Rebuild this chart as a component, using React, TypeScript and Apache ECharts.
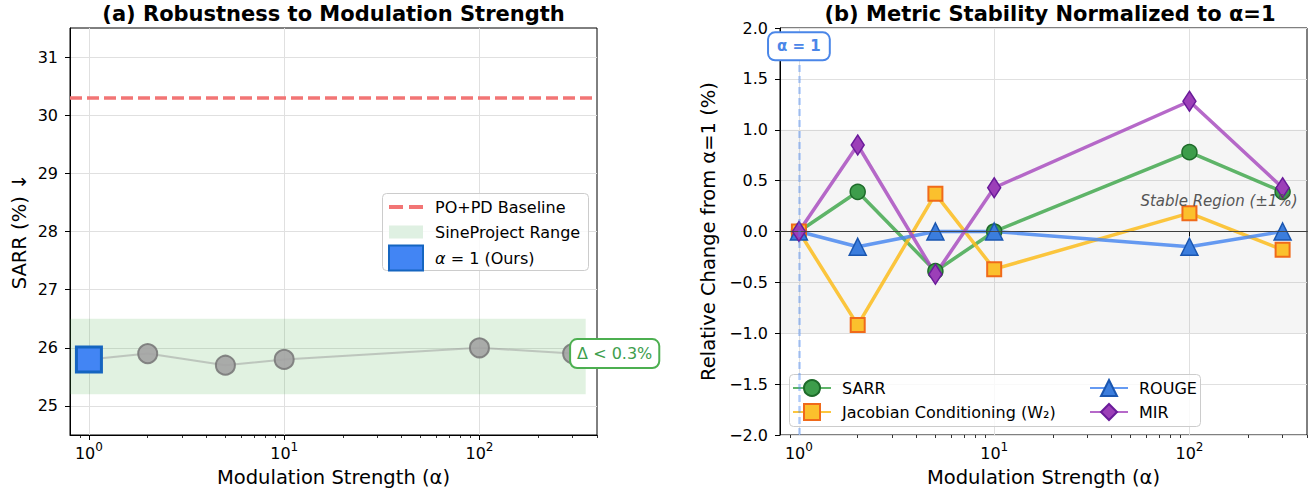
import React, { useEffect, useRef } from 'react';
import * as echarts from 'echarts';

// ---------- data ----------
const ALPHAS = [1, 2, 5, 10, 100, 300];
const SARR_VALUES = [25.8, 25.9, 25.7, 25.8, 26.0, 25.9];
const BASELINE_SARR = 30.3;
const SINE_RANGE_Y = [25.2, 26.5];
const SINE_RANGE_X = [0.8, 350];
const OURS_ALPHA = 1;
const OURS_SARR = 25.8;
const DELTA_LABEL = 'Δ < 0.3%';
const DELTA_POS = [300, 25.9];

const X_RANGE = [0.8, 400];
const X_MAJOR_TICKS = [1, 10, 100];
const X_MINOR_TICKS = [0.9, 2, 3, 4, 5, 6, 7, 8, 9, 20, 30, 40, 50, 60, 70, 80, 90, 200, 300, 400];
const LEFT_Y_RANGE = [24.5, 31.5];
const LEFT_Y_TICKS = [25, 26, 27, 28, 29, 30, 31];

const REL_SARR = [0, 0.39, -0.39, 0, 0.78, 0.39];
const REL_JACOBIAN = [0, -0.92, 0.37, -0.37, 0.18, -0.18];
const REL_ROUGE = [0, -0.15, 0, 0, -0.15, 0];
const REL_MIR = [0, 0.85, -0.42, 0.43, 1.28, 0.43];
const RIGHT_Y_RANGE = [-2, 2];
const RIGHT_Y_STEP = 0.5;
const STABLE_BAND = [-1, 1];
const STABLE_LABEL_POS = [360, 0.3];
const REF_ALPHA = 1;
const REF_LABEL_Y = 1.82;

const FONT = '"DejaVu Sans", "Noto Sans", sans-serif';

const pts = (ys: number[]) => ALPHAS.map((a, i) => [a, ys[i]]);

function metricSeries(name: string, ys: number[], line: string, fill: string, border: string, symbol: string, size: any, borderWidth = 1.5) {
  return {
    name,
    type: 'line',
    xAxisIndex: 2,
    yAxisIndex: 1,
    data: pts(ys),
    symbol,
    symbolSize: size,
    showSymbol: true,
    lineStyle: { color: line, width: 3.5, opacity: 0.85 },
    itemStyle: { color: fill, borderColor: border, borderWidth, opacity: 1 },
    z: 3,
  };
}

export default function App() {
  const ref = useRef<HTMLDivElement>(null);
  useEffect(() => {
    if (!ref.current) return;
    const chart = echarts.init(ref.current, null, { renderer: 'svg' });

    const xAxisBase = (gridIndex: number) => ({
      type: 'log',
      logBase: 10,
      gridIndex,
      min: X_RANGE[0],
      max: X_RANGE[1],
      position: 'bottom',
      name: 'Modulation Strength (α)',
      nameLocation: 'middle',
      nameGap: 32,
      nameTextStyle: { fontSize: 19.5, color: '#000', fontFamily: FONT },
      axisLine: { show: true, lineStyle: { color: '#000', width: 1 } },
      axisTick: { show: true, length: 5, lineStyle: { color: '#000', width: 1 }, customValues: X_MAJOR_TICKS },
      axisLabel: {
        show: true,
        customValues: X_MAJOR_TICKS,
        margin: 6,
        color: '#000',
        fontFamily: FONT,
        formatter: (v: number) => '{b|10}{s|' + Math.round(Math.log10(v)) + '}',
        rich: {
          b: { fontSize: 16, lineHeight: 24, color: '#000', fontFamily: FONT },
          s: { fontSize: 12, lineHeight: 14, verticalAlign: 'top', color: '#000', fontFamily: FONT },
        },
      },
      splitLine: { show: true, lineStyle: { color: '#e0e0e0', width: 1 } },
    });
    const xAxisMinor = (gridIndex: number) => ({
      type: 'log',
      logBase: 10,
      gridIndex,
      min: X_RANGE[0],
      max: X_RANGE[1],
      position: 'bottom',
      axisLine: { show: false },
      axisTick: { show: true, length: 3, lineStyle: { color: '#000', width: 0.8 }, customValues: X_MINOR_TICKS },
      axisLabel: { show: false },
      splitLine: { show: false },
    });

    const legendText = (lh: number, pad: number) => ({
      fontSize: 16,
      color: '#000',
      fontFamily: FONT,
      lineHeight: lh,
      padding: [0, 0, 0, pad],
    });

    const option: any = {
      animation: false,
      textStyle: { fontFamily: FONT },
      grid: [
        { left: 70, top: 28, width: 527, height: 408, show: true, borderColor: '#000', borderWidth: 1, backgroundColor: 'transparent' },
        { left: 780, top: 28, width: 527, height: 408, show: true, borderColor: '#000', borderWidth: 1, backgroundColor: 'transparent' },
      ],
      xAxis: [xAxisBase(0), xAxisMinor(0), xAxisBase(1), xAxisMinor(1)],
      yAxis: [
        {
          type: 'value',
          gridIndex: 0,
          min: LEFT_Y_RANGE[0],
          max: LEFT_Y_RANGE[1],
          name: 'SARR (%) ↓',
          nameLocation: 'middle',
          nameGap: 41,
          nameTextStyle: { fontSize: 19.5, color: '#000', fontFamily: FONT },
          axisLine: { show: true, lineStyle: { color: '#000', width: 1 } },
          axisTick: { show: true, length: 5, lineStyle: { color: '#000' }, customValues: LEFT_Y_TICKS },
          axisLabel: { customValues: LEFT_Y_TICKS, fontSize: 16, color: '#000', margin: 12, fontFamily: FONT },
          splitLine: { show: true, lineStyle: { color: '#e0e0e0', width: 1 } },
        },
        {
          type: 'value',
          gridIndex: 1,
          min: RIGHT_Y_RANGE[0],
          max: RIGHT_Y_RANGE[1],
          interval: RIGHT_Y_STEP,
          name: 'Relative Change from α=1 (%)',
          nameLocation: 'middle',
          nameGap: 62,
          nameTextStyle: { fontSize: 19.5, color: '#000', fontFamily: FONT },
          axisLine: { show: true, lineStyle: { color: '#000', width: 1 } },
          axisTick: { show: true, length: 5, lineStyle: { color: '#000' } },
          axisLabel: {
            fontSize: 16,
            color: '#000',
            margin: 12,
            fontFamily: FONT,
            formatter: (v: number) => (v < 0 ? '−' : '') + Math.abs(v).toFixed(1),
          },
          splitLine: { show: true, lineStyle: { color: '#e0e0e0', width: 1 } },
        },
      ],
      legend: [
        {
          orient: 'vertical',
          left: 388,
          top: 194.5,
          padding: 0,
          itemWidth: 34,
          itemHeight: 25,
          itemGap: 0,
          selectedMode: false,
          textStyle: {
            ...legendText(25, 7),
            rich: { i: { fontStyle: 'italic', fontSize: 16, lineHeight: 25, color: '#000', fontFamily: FONT } },
          },
          formatter: (name: string) => (name.startsWith('α') ? '{i|α} = 1 (Ours)' : name),
          data: [
            { name: 'PO+PD Baseline', icon: 'path://M0,0h14v4h-14z M20,0h14v4h-14z', itemStyle: { color: '#f27575', borderWidth: 0 } },
            { name: 'SineProject Range', icon: 'path://M0,0h34v13h-34z', itemStyle: { color: '#dff0e2', borderWidth: 0 } },
            { name: 'α = 1 (Ours)' },
          ],
        },
        {
          orient: 'vertical',
          left: 792,
          top: 376,
          padding: 0,
          itemWidth: 38,
          itemHeight: 20,
          itemGap: 0,
          selectedMode: false,
          textStyle: legendText(24, 6),
          data: ['SARR', 'Jacobian Conditioning (W₂)'],
        },
        {
          orient: 'vertical',
          left: 1089,
          top: 376,
          padding: 0,
          itemWidth: 38,
          itemHeight: 20,
          itemGap: 0,
          selectedMode: false,
          textStyle: legendText(24, 6),
          data: ['ROUGE', 'MIR'],
        },
      ],
      graphic: [
        {
          type: 'text',
          x: 333.5,
          y: 14,
          style: { text: '(a) Robustness to Modulation Strength', fontSize: 21, fontWeight: 'bold', fontFamily: FONT, fill: '#000', align: 'center', verticalAlign: 'middle' },
        },
        {
          type: 'text',
          x: 1050,
          y: 14,
          style: { text: '(b) Metric Stability Normalized to α=1', fontSize: 21, fontWeight: 'bold', fontFamily: FONT, fill: '#000', align: 'center', verticalAlign: 'middle' },
        },
        {
          type: 'rect',
          z: 3,
          shape: { x: 382.5, y: 193.5, width: 206, height: 77, r: 4 },
          style: { fill: 'rgba(255,255,255,0.8)', stroke: '#cccccc', lineWidth: 1 },
        },
        {
          type: 'rect',
          z: 3,
          shape: { x: 789.5, y: 374.5, width: 411, height: 52, r: 4 },
          style: { fill: 'rgba(255,255,255,0.8)', stroke: '#cccccc', lineWidth: 1 },
        },
      ],
      series: [
        {
          name: 'SineProject Range',
          type: 'line',
          xAxisIndex: 0,
          yAxisIndex: 0,
          data: [],
          itemStyle: { color: '#dff0e2' },
          markArea: {
            silent: true,
            itemStyle: { color: 'rgba(76,175,80,0.17)' },
            data: [[{ xAxis: SINE_RANGE_X[0], yAxis: SINE_RANGE_Y[0] }, { xAxis: SINE_RANGE_X[1], yAxis: SINE_RANGE_Y[1] }]],
          },
        },
        {
          name: 'PO+PD Baseline',
          type: 'line',
          xAxisIndex: 0,
          yAxisIndex: 0,
          data: [],
          itemStyle: { color: '#f27575' },
          markLine: {
            silent: true,
            symbol: ['none', 'none'],
            label: { show: false },
            lineStyle: { color: '#f27575', width: 3.5, type: [12, 5] },
            data: [{ yAxis: BASELINE_SARR }],
          },
        },
        {
          name: 'SineProject',
          type: 'line',
          xAxisIndex: 0,
          yAxisIndex: 0,
          data: pts(SARR_VALUES),
          symbol: 'circle',
          symbolSize: 19,
          lineStyle: { color: '#999', width: 2, opacity: 0.5 },
          itemStyle: { color: '#a3a3a3', borderColor: '#7a7a7a', borderWidth: 2, opacity: 0.9 },
          z: 3,
          markPoint: {
            silent: true,
            symbol: 'circle',
            symbolSize: 1,
            itemStyle: { color: 'transparent' },
            label: {
              show: true,
              position: 'right',
              distance: -2,
              formatter: DELTA_LABEL,
              fontSize: 16,
              color: '#3d9e4d',
              fontFamily: FONT,
              backgroundColor: '#fff',
              borderColor: '#4CAF50',
              borderWidth: 2,
              borderRadius: 6,
              padding: [6, 6, 5, 6],
            },
            data: [{ coord: DELTA_POS }],
          },
        },
        {
          name: 'α = 1 (Ours)',
          type: 'scatter',
          xAxisIndex: 0,
          yAxisIndex: 0,
          data: [[OURS_ALPHA, OURS_SARR]],
          symbol: 'rect',
          symbolSize: 25,
          itemStyle: { color: '#4285F4', borderColor: '#1565C0', borderWidth: 3, opacity: 1 },
          z: 5,
        },
        {
          name: 'reference',
          type: 'line',
          xAxisIndex: 2,
          yAxisIndex: 1,
          data: [],
          markArea: {
            silent: true,
            itemStyle: { color: 'rgba(128,128,128,0.08)' },
            data: [[{ yAxis: STABLE_BAND[0] }, { yAxis: STABLE_BAND[1] }]],
          },
          markLine: {
            silent: true,
            symbol: ['none', 'none'],
            label: { show: false },
            data: [
              { yAxis: 0, lineStyle: { color: '#444', width: 1.2, type: 'solid', opacity: 0.9 } },
              { xAxis: REF_ALPHA, lineStyle: { color: '#4285F4', width: 2.5, type: [7, 4], opacity: 0.4 } },
            ],
          },
          markPoint: {
            silent: true,
            symbol: 'circle',
            symbolSize: 1,
            itemStyle: { color: 'transparent' },
            data: [
              {
                coord: [REF_ALPHA, REF_LABEL_Y],
                label: {
                  show: true,
                  position: 'inside',
                  formatter: 'α = 1',
                  fontSize: 15,
                  fontWeight: 'bold',
                  color: '#4a86e8',
                  fontFamily: FONT,
                  backgroundColor: '#fff',
                  borderColor: '#4a86e8',
                  borderWidth: 2,
                  borderRadius: 6,
                  padding: [6, 8, 5, 8],
                },
              },
              {
                coord: STABLE_LABEL_POS,
                label: {
                  show: true,
                  position: 'left',
                  distance: 0,
                  formatter: 'Stable Region (±1%)',
                  fontSize: 15,
                  fontStyle: 'italic',
                  color: '#555',
                  fontFamily: FONT,
                },
              },
            ],
          },
        },
        metricSeries('SARR', REL_SARR, '#43a84f', '#3d9d4b', '#1e6b2a', 'circle', 15),
        metricSeries('Jacobian Conditioning (W₂)', REL_JACOBIAN, '#fbbc1c', '#fbc02d', '#f06a1a', 'rect', 14, 2),
        metricSeries('ROUGE', REL_ROUGE, '#4a88f0', '#3b7ddd', '#1a56b0', 'triangle', 17),
        metricSeries('MIR', REL_MIR, '#a94fc0', '#9c3fb8', '#6a1b9a', 'diamond', [13, 20]),
      ],
    };

    chart.setOption(option);
    return () => chart.dispose();
  }, []);

  return <div ref={ref} style={{ position: 'fixed', left: 0, top: 0, width: 1315, height: 492, background: '#fff' }} />;
}
